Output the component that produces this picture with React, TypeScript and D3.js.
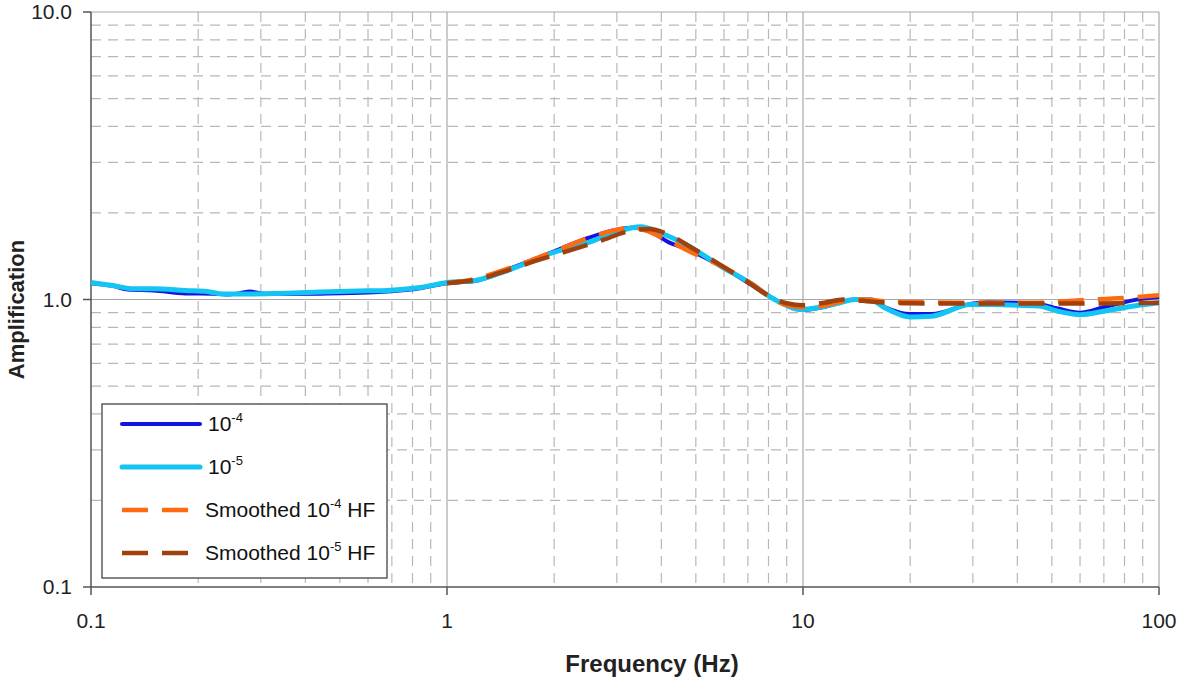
import React from "react";
import * as d3 from "d3";

type Pt = [number, number];

const xTicks = [0.1, 1, 10, 100];
const xTickLabels = ["0.1", "1", "10", "100"];
const yTicks = [0.1, 1, 10];
const yTickLabels = ["0.1", "1.0", "10.0"];

const amp10m4: Pt[] = [
  [0.1, 1.14], [0.115, 1.115], [0.127, 1.083], [0.15, 1.075], [0.184, 1.05], [0.22, 1.048],
  [0.24, 1.04], [0.26, 1.05], [0.28, 1.066], [0.3, 1.05], [0.335, 1.045], [0.44, 1.048],
  [0.6, 1.057], [0.68, 1.066], [0.84, 1.095], [1.0, 1.14], [1.1, 1.15], [1.2, 1.16],
  [1.5, 1.28], [2.0, 1.47], [2.5, 1.64], [3.0, 1.75], [3.4, 1.78], [3.8, 1.7], [4.2, 1.58],
  [4.7, 1.5], [5.85, 1.31], [7.2, 1.12], [8.1, 1.02], [8.9, 0.96], [10, 0.92], [11.1, 0.935],
  [12.5, 0.97], [14, 1.0], [15.4, 1.0], [17, 0.94], [20, 0.89], [23, 0.89], [29.5, 0.965],
  [33, 0.978], [40, 0.975], [46, 0.965], [52, 0.93], [60, 0.9], [70, 0.94], [85, 0.995], [100, 1.02],
];

const amp10m5: Pt[] = [
  [0.1, 1.145], [0.119, 1.11], [0.13, 1.09], [0.15, 1.09], [0.184, 1.075], [0.212, 1.066],
  [0.235, 1.045], [0.28, 1.045], [0.335, 1.05], [0.44, 1.062], [0.6, 1.072], [0.68, 1.075],
  [0.84, 1.1], [1.0, 1.145], [1.2, 1.165], [1.5, 1.27], [2.0, 1.46], [2.5, 1.58], [3.0, 1.72],
  [3.5, 1.79], [4.0, 1.7], [4.7, 1.55], [5.85, 1.31], [7.2, 1.13], [8.1, 1.02], [8.9, 0.96],
  [9.8, 0.923], [11.1, 0.938], [12.5, 0.97], [14, 1.0], [15.4, 1.0], [17, 0.935], [20, 0.87],
  [23, 0.875], [29.5, 0.96], [33, 0.96], [40, 0.955], [46, 0.95], [52, 0.91], [60, 0.885],
  [70, 0.91], [85, 0.95], [100, 0.975],
];

const smoothed10m4: Pt[] = [
  [1, 1.14], [1.2, 1.18], [1.4, 1.25], [1.7, 1.36], [2, 1.47], [2.5, 1.64], [3, 1.75],
  [3.3, 1.78], [3.6, 1.74], [4.2, 1.6], [4.8, 1.47], [5.8, 1.32], [7.2, 1.13], [8.1, 1.02],
  [8.9, 0.96], [10, 0.94], [11, 0.945], [13, 0.985], [15, 1.0], [17, 0.985], [20, 0.98],
  [30, 0.975], [45, 0.975], [60, 0.995], [80, 1.012], [100, 1.035],
];

const smoothed10m5: Pt[] = [
  [1, 1.14], [1.2, 1.17], [1.5, 1.27], [1.8, 1.37], [2.2, 1.48], [2.7, 1.6], [3.2, 1.72],
  [3.7, 1.76], [4.2, 1.68], [4.8, 1.53], [5.8, 1.33], [7, 1.15], [8, 1.03], [9, 0.97],
  [10, 0.955], [11.5, 0.975], [13, 1.0], [16, 0.98], [20, 0.97], [30, 0.968], [60, 0.968], [100, 0.975],
];

const W = 1181;
const H = 679;
const left = 91;
const right = 1159;
const top = 12;
const bottom = 587;

const x = d3.scaleLog().domain([0.1, 100]).range([left, right]);
const y = d3.scaleLog().domain([0.1, 10]).range([bottom, top]);

const line = d3
  .line<Pt>()
  .x((d) => x(d[0]))
  .y((d) => y(d[1]))
  .curve(d3.curveMonotoneX);

const minorX: number[] = [];
[0.1, 1, 10].forEach((dec) => {
  for (let k = 2; k <= 9; k++) minorX.push(dec * k);
});
const minorY: number[] = [];
[0.1, 1].forEach((dec) => {
  for (let k = 2; k <= 9; k++) minorY.push(dec * k);
});

const font = "'Liberation Sans', Arial, sans-serif";
const gridDash = "10,7";
const gridColor = "#b8b8b8";
const majorColor = "#a8a8a8";
const axisColor = "#555";

const BLUE = "#1414e0";
const CYAN = "#14c4f2";
const ORANGE = "#ff6a10";
const BROWN = "#a0400c";

const legendItems = [
  { main: "10", sup: "-4", tail: "", color: BLUE, dash: "", width: 4 },
  { main: "10", sup: "-5", tail: "", color: CYAN, dash: "", width: 5 },
  { main: "Smoothed 10", sup: "-4", tail: " HF", color: ORANGE, dash: "26,14", width: 4.5 },
  { main: "Smoothed 10", sup: "-5", tail: " HF", color: BROWN, dash: "26,14", width: 4.5 },
];

export default function App() {
  return (
    <svg
      width={W}
      height={H}
      style={{ position: "absolute", left: 0, top: 0, background: "#fff" }}
      fontFamily={font}
    >
      {/* minor grid */}
      {minorX.map((v) => (
        <line key={"mx" + v} x1={x(v)} x2={x(v)} y1={top} y2={bottom} stroke={gridColor} strokeWidth={1.2} strokeDasharray={gridDash} />
      ))}
      {minorY.map((v) => (
        <line key={"my" + v} x1={left} x2={right} y1={y(v)} y2={y(v)} stroke={gridColor} strokeWidth={1.2} strokeDasharray={gridDash} />
      ))}
      {/* major grid */}
      {xTicks.slice(1).map((v) => (
        <line key={"Mx" + v} x1={x(v)} x2={x(v)} y1={top} y2={bottom} stroke={majorColor} strokeWidth={1.2} />
      ))}
      {yTicks.slice(1).map((v) => (
        <line key={"My" + v} x1={left} x2={right} y1={y(v)} y2={y(v)} stroke={majorColor} strokeWidth={1.2} />
      ))}
      {/* axes */}
      <line x1={left} x2={left} y1={top} y2={bottom} stroke={axisColor} strokeWidth={1.5} />
      <line x1={left} x2={right} y1={bottom} y2={bottom} stroke={axisColor} strokeWidth={1.5} />
      {yTicks.map((v, i) => (
        <g key={"yt" + v}>
          <line x1={left - 8} x2={left} y1={y(v)} y2={y(v)} stroke={axisColor} strokeWidth={1.5} />
          <text x={72} y={y(v)} dy="0.35em" textAnchor="end" fontSize={21} fill="#222">
            {yTickLabels[i]}
          </text>
        </g>
      ))}
      {xTicks.map((v, i) => (
        <g key={"xt" + v}>
          <line x1={x(v)} x2={x(v)} y1={bottom} y2={bottom + 8} stroke={axisColor} strokeWidth={1.5} />
          <text x={x(v)} y={628} textAnchor="middle" fontSize={21} fill="#222">
            {xTickLabels[i]}
          </text>
        </g>
      ))}
      {/* series */}
      <path d={line(amp10m4) || ""} fill="none" stroke={BLUE} strokeWidth={4} strokeLinejoin="round" />
      <path d={line(amp10m5) || ""} fill="none" stroke={CYAN} strokeWidth={5} strokeLinejoin="round" />
      <path d={line(smoothed10m4) || ""} fill="none" stroke={ORANGE} strokeWidth={4.5} strokeDasharray="26,14" />
      <path d={line(smoothed10m5) || ""} fill="none" stroke={BROWN} strokeWidth={4.5} strokeDasharray="26,14" />
      {/* titles */}
      <text x={652} y={672} textAnchor="middle" fontSize={24} fontWeight="bold" fill="#222">
        Frequency (Hz)
      </text>
      <text transform={`translate(24, ${(top + bottom) / 2 + 10}) rotate(-90)`} textAnchor="middle" fontSize={22} fontWeight="bold" fill="#222">
        Amplification
      </text>
      {/* legend */}
      <rect x={102} y={404} width={285} height={174} fill="#fff" stroke="#444" strokeWidth={1.3} />
      {legendItems.map((it, i) => {
        const cy = 424 + i * 43;
        return (
          <g key={"lg" + i}>
            <line x1={122} x2={200} y1={cy} y2={cy} stroke={it.color} strokeWidth={it.width} strokeDasharray={it.dash || undefined} strokeLinecap={it.dash ? "butt" : "round"} />
            <text x={it.dash ? 205 : 208} y={cy + 7} fontSize={21} fill="#111">
              {it.main}
              <tspan fontSize={13} dy={-9}>{it.sup}</tspan>
              <tspan dy={9}>{it.tail}</tspan>
            </text>
          </g>
        );
      })}
    </svg>
  );
}
